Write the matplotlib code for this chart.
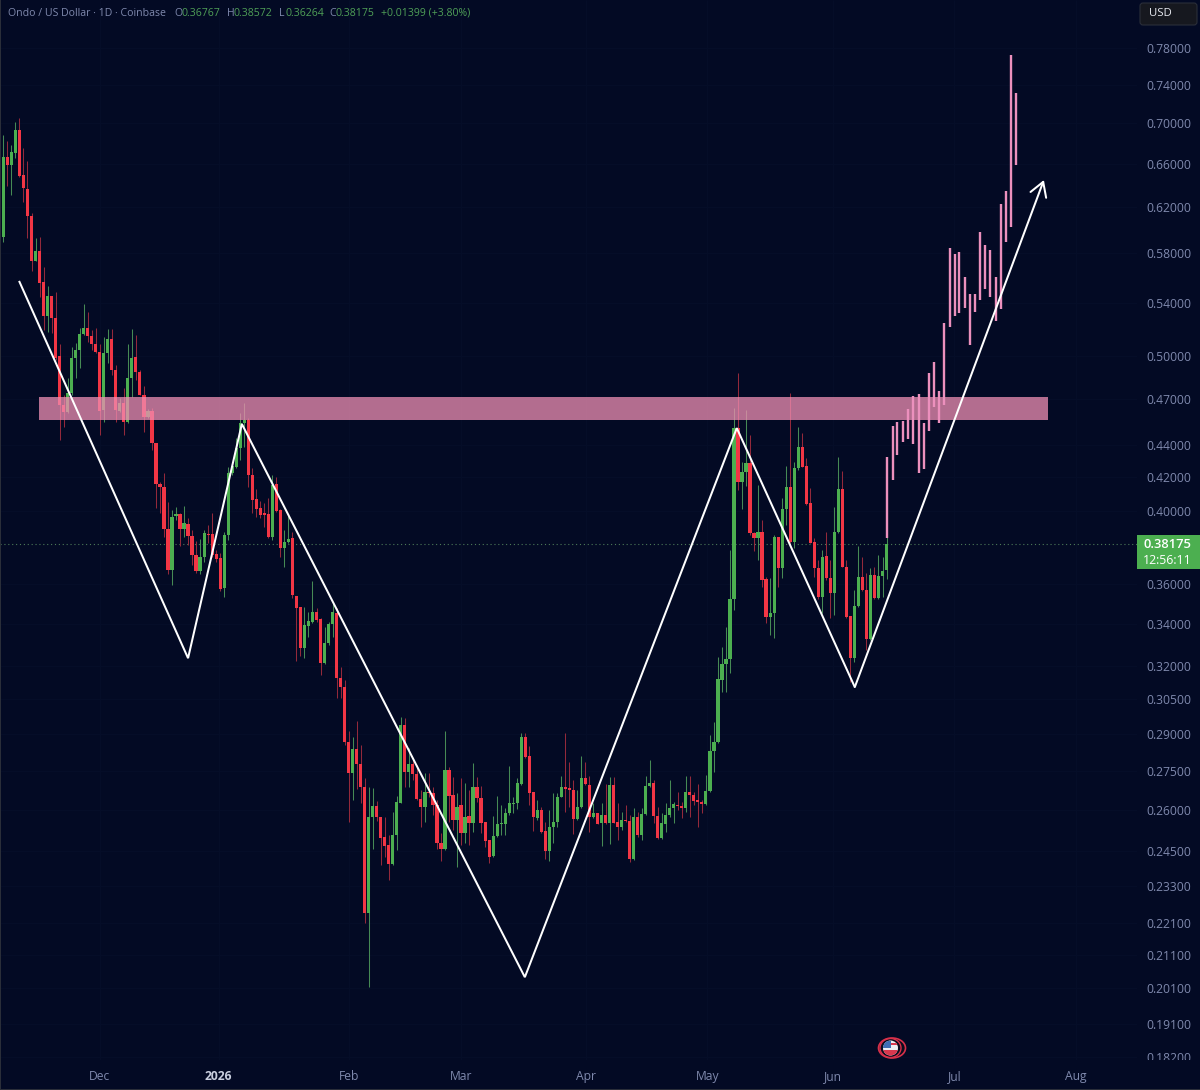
# Ondo / US Dollar daily candles with the pattern drawn over them
import numpy as np
import matplotlib
matplotlib.use("Agg")
import matplotlib.pyplot as plt
from matplotlib.patches import Rectangle, Circle, Ellipse, FancyBboxPatch
from matplotlib.transforms import Bbox

plt.rcParams['font.family'] = ['Open Sans', 'DejaVu Sans']

# Daily candles
opens = [
    .5940, .6666, .6589, .6704, .6930, .6494, .6365, .6122, .5738, .5821,
    .5566, .5300, .5454, .5284, .5003, .4661, .4615, .4743, .4988, .5046,
    .5164, .5209, .5149, .5090, .5031, .4628, .5024, .5127, .4903, .4621,
    .4675, .4549, .4846, .4995, .4889, .4729, .4582, .4621, .4413, .4159,
    .4141, .3898, .3674, .3972, .3983, .3898, .3926, .3859, .3755, .3669,
    .3744, .3870, .3870, .3760, .3739, .3580, .3864, .4226, .4262, .4381,
    .4542, .4562, .4213, .4071, .4018, .3989, .3983, .3853, .4159, .4006,
    .3793, .3826, .3848, .3539, .3483, .3284, .3389, .3409, .3458, .3424,
    .3213, .3308, .3399, .3453, .3144, .3103, .2867, .2742, .2838, .2778,
    .2687, .2240, .2573, .2614, .2573, .2500, .2471, .2404, .2507, .2626,
    .2938, .2746, .2778, .2738, .2641, .2610, .2667, .2664, .2618, .2478,
    .2457, .2754, .2656, .2562, .2618, .2514, .2577, .2551, .2687, .2645,
    .2555, .2489, .2432, .2503, .2547, .2547, .2588, .2622, .2626, .2699,
    .2888, .2810, .2667, .2569, .2599, .2521, .2450, .2536, .2555, .2648,
    .2687, .2683, .2675, .2565, .2610, .2722, .2695, .2573, .2588, .2551,
    .2580, .2551, .2695, .2555, .2536, .2562, .2558, .2421, .2573, .2507,
    .2584, .2691, .2702, .2577, .2496, .2547, .2580, .2606, .2618, .2614,
    .2606, .2667, .2656, .2637, .2629, .2622, .2671, .2830, .2867, .3135,
    .3208, .3232, .3524, .4509, .4171, .4232, .4287, .3875, .3848, .3881,
    .3627, .3434, .3453, .3853, .3685, .4012, .4141, .3826, .4256, .4387,
    .4268, .4047, .3826, .3685, .3534, .3750, .3632, .3555, .3881, .4130,
    .3690, .3439, .3236, .3488, .3637, .3570, .3327, .3648, .3529, .3643,
    .36767,
]
highs = [
    .6880, .6821, .6782, .7011, .7051, .6752, .6627, .6149, .5931, .5940,
    .5688, .5534, .5454, .5486, .5090, .4729, .4846, .5068, .5097, .5209,
    .5392, .5331, .5194, .5209, .5090, .5142, .5201, .5201, .4938, .4708,
    .4777, .5090, .5201, .5157, .4903, .4790, .4635, .4641, .4413, .4171,
    .4226, .4053, .4006, .4024, .3989, .4029, .3960, .3892, .3831, .3842,
    .3892, .3920, .3989, .3782, .3766, .3881, .4262, .4287, .4445, .4608,
    .4675, .4575, .4256, .4130, .4059, .4047, .4077, .4213, .4201, .4012,
    .3892, .3978, .3881, .3539, .3483, .3483, .3458, .3617, .3478, .3429,
    .3384, .3409, .3509, .3478, .3195, .3135, .2913, .2888, .2956, .2855,
    .2722, .2687, .2683, .2633, .2573, .2573, .2507, .2592, .2652, .2973,
    .2969, .2842, .2794, .2774, .2675, .2742, .2742, .2687, .2637, .2514,
    .2913, .2766, .2726, .2664, .2722, .2702, .2675, .2782, .2726, .2691,
    .2555, .2489, .2577, .2652, .2618, .2606, .2770, .2648, .2722, .2905,
    .2905, .2850, .2667, .2637, .2610, .2555, .2599, .2664, .2664, .2730,
    .2905, .2786, .2714, .2675, .2810, .2786, .2730, .2626, .2588, .2626,
    .2699, .2726, .2726, .2626, .2592, .2618, .2580, .2606, .2592, .2606,
    .2730, .2794, .2714, .2610, .2588, .2626, .2714, .2629, .2667, .2629,
    .2730, .2730, .2667, .2699, .2637, .2734, .2896, .2951, .3241, .3288,
    .3384, .3782, .4641, .4882, .4293, .4628, .4464, .3881, .4153, .3949,
    .3637, .3632, .3864, .3853, .4077, .4268, .4743, .4293, .4516, .4477,
    .4318, .4136, .3848, .3728, .3782, .3881, .3728, .4024, .4324, .4238,
    .3728, .3439, .3570, .3804, .3744, .3658, .3685, .3690, .3755, .3744,
    .38572,
]
lows = [
    .5897, .6393, .6310, .6656, .6476, .6247, .5931, .5655, .5738, .5446,
    .5194, .5179, .5172, .4974, .4432, .4516, .4608, .4729, .4846, .4917,
    .5157, .5105, .5046, .5024, .4464, .4549, .4953, .4867, .4549, .4615,
    .4464, .4542, .4715, .4832, .4729, .4483, .4575, .4368, .4018, .3989,
    .3853, .3653, .3596, .3949, .3804, .3853, .3809, .3701, .3658, .3653,
    .3717, .3820, .3744, .3717, .3565, .3534, .3837, .4213, .4256, .4306,
    .4387, .4141, .3989, .3966, .3960, .3909, .3848, .3837, .3995, .3744,
    .3690, .3820, .3529, .3222, .3246, .3236, .3336, .3404, .3409, .3158,
    .3208, .3298, .3336, .3055, .3055, .2855, .2555, .2637, .2679, .2626,
    .2208, .2014, .2457, .2558, .2401, .2428, .2350, .2401, .2453, .2626,
    .2687, .2687, .2714, .2637, .2536, .2555, .2648, .2580, .2457, .2415,
    .2453, .2555, .2525, .2394, .2471, .2478, .2471, .2518, .2629, .2514,
    .2464, .2408, .2428, .2500, .2507, .2507, .2580, .2588, .2602, .2695,
    .2802, .2618, .2521, .2562, .2514, .2421, .2415, .2478, .2536, .2648,
    .2592, .2610, .2510, .2562, .2606, .2695, .2518, .2569, .2547, .2467,
    .2547, .2475, .2551, .2489, .2525, .2555, .2411, .2418, .2500, .2489,
    .2580, .2687, .2551, .2493, .2493, .2518, .2573, .2551, .2599, .2569,
    .2592, .2573, .2618, .2536, .2588, .2618, .2667, .2746, .2863, .3081,
    .3081, .3167, .3468, .4124, .4012, .4147, .3864, .3777, .3728, .3585,
    .3404, .3346, .3331, .3585, .3632, .3920, .3820, .3793, .4244, .4262,
    .4035, .3820, .3637, .3524, .3453, .3622, .3429, .3443, .3875, .3690,
    .3429, .3126, .3217, .3483, .3565, .3274, .3322, .3524, .3524, .3534,
    .36264,
]
closes = [
    .6666, .6589, .6714, .6930, .6485, .6374, .6122, .5738, .5821, .5558,
    .5300, .5454, .5284, .4988, .4661, .4615, .4743, .4988, .5046, .5164,
    .5209, .5149, .5090, .5031, .4621, .5024, .5127, .4903, .4628, .4675,
    .4549, .4846, .4988, .4889, .4729, .4582, .4621, .4413, .4159, .4141,
    .3898, .3674, .3966, .3983, .3898, .3932, .3859, .3755, .3669, .3744,
    .3875, .3864, .3755, .3733, .3575, .3864, .4226, .4268, .4381, .4542,
    .4562, .4213, .4065, .4012, .3978, .3978, .3853, .4153, .4000, .3793,
    .3826, .3842, .3544, .3478, .3284, .3394, .3414, .3458, .3419, .3213,
    .3308, .3399, .3458, .3144, .3103, .2867, .2742, .2838, .2778, .2687,
    .2240, .2573, .2614, .2573, .2496, .2467, .2404, .2507, .2629, .2938,
    .2746, .2778, .2738, .2641, .2610, .2667, .2664, .2618, .2478, .2457,
    .2754, .2652, .2562, .2610, .2514, .2573, .2551, .2687, .2645, .2551,
    .2485, .2428, .2503, .2547, .2551, .2588, .2626, .2626, .2702, .2888,
    .2806, .2664, .2573, .2599, .2518, .2450, .2536, .2555, .2648, .2687,
    .2679, .2675, .2565, .2610, .2722, .2699, .2573, .2588, .2547, .2580,
    .2551, .2695, .2551, .2536, .2562, .2558, .2421, .2573, .2507, .2584,
    .2691, .2702, .2577, .2496, .2551, .2580, .2606, .2622, .2614, .2606,
    .2667, .2656, .2633, .2629, .2622, .2671, .2830, .2867, .3140, .3208,
    .3232, .3524, .4509, .4171, .4232, .4287, .3875, .3848, .3881, .3622,
    .3434, .3453, .3853, .3685, .4012, .4141, .3826, .4256, .4387, .4262,
    .4041, .3820, .3685, .3534, .3744, .3632, .3555, .3881, .4130, .3690,
    .3434, .3236, .3488, .3637, .3570, .3327, .3648, .3529, .3643, .3669,
    .38175,
]

# Pink projected bars (day number, top, bottom)
proj_days = [220.2, 221.6, 222.7, 224.1, 225.4, 226.6, 228.0, 229.4, 230.5, 231.8,
             233.1, 234.3, 235.7, 237.1, 238.1, 239.5, 240.8, 242.0, 243.4, 244.5,
             245.8, 247.2, 248.4, 249.7, 251.1, 252.2]
proj_high = [.4324, .4522, .4549, .4555, .4635, .4722, .4736, .4542, .4882, .4960,
             .4756, .5247, .5846, .5796, .5812, .5606, .5470, .5470, .5983, .5871,
             .5829, .5606, .6229, .6347, .7722, .7310]
proj_low = [.3848, .4183, .4337, .4419, .4438, .4406, .4226, .4250, .4490, .4648,
            .4542, .4661, .5216, .5300, .5323, .5361, .5083, .5331, .5423, .5510,
            .5446, .5261, .5354, .5897, .6026, .6589]

# White pattern line and resistance band
path_days = [3.9, 46.0, 59.4, 129.9, 182.7, 212.1, 259.2]
path_prices = [.5575, .3236, .4536, .2043, .4509, .3104, .6448]
band_days = [8.9, 260.2]
band_prices = [.4562, .4715]

# Axis labels
price_ticks = [.78, .74, .70, .66, .62, .58, .54, .50, .47, .44, .42, .40, .36, .34, .32,
               .305, .29, .275, .26, .245, .233, .221, .211, .201, .191, .182]
month_labels = ['Dec', '2026', 'Feb', 'Mar', 'Apr', 'May', 'Jun', 'Jul', 'Aug']
month_days = [24, 53.6, 86, 114, 145.2, 175.4, 206.7, 236.9, 267.2]

BG = '#030a24'
GREEN = '#4caf50'
RED = '#f23645'
PINK = '#ec90bd'
MUTED = '#7f89ad'

opens = np.array(opens)
closes = np.array(closes)
days = np.arange(len(opens))
up = closes >= opens

fig = plt.figure(figsize=(12, 10.9), dpi=100, facecolor=BG)
ax = fig.add_axes([0, 30 / 1090, 1137 / 1200, 1060 / 1090], facecolor=BG)
ax.set_yscale('log')
ax.set_xlim(-0.85, 282.4)
ax.set_ylim(.1813, .8359)

# Barely visible grid
ax.vlines(month_days, .1813, .8359, color='#050d28', lw=0.8, zorder=0)
ax.hlines(price_ticks, -0.85, 282.4, color='#050d28', lw=0.8, zorder=0)

# Candles
wick_colors = ['#468a55' if u else '#93293b' for u in up]
ax.vlines(days, lows, highs, colors=wick_colors, lw=0.75, zorder=2)
ax.bar(days, np.abs(closes - opens), bottom=np.minimum(opens, closes), width=0.8,
       color=[GREEN if u else RED for u in up], linewidth=0, zorder=3)

# Last price line
ax.axhline(closes[-1], color='#4d7a58', lw=0.8, ls=(0, (1, 2.5)), zorder=1)

# Band sits over the candles, projection and pattern over the band
ax.fill_between(band_days, band_prices[0], band_prices[1], color='#f08fb4', alpha=0.75,
                linewidth=0, zorder=4)
ax.vlines(proj_days, proj_low, proj_high, color=PINK, lw=1.7, zorder=5)
ax.plot(path_days[:-1], path_prices[:-1], color='white', lw=1.45, zorder=6,
        solid_joinstyle='miter', solid_capstyle='butt')
ax.annotate('', xy=(path_days[-1], path_prices[-1]), xytext=(path_days[-2], path_prices[-2]),
            arrowprops=dict(arrowstyle='->,head_length=0.5,head_width=0.3', color='white',
                            lw=1.45, mutation_scale=20, shrinkA=0, shrinkB=0), zorder=6)

# Price scale on the right, month labels below
ax.yaxis.tick_right()
ax.minorticks_off()
ax.set_yticks(price_ticks)
ax.set_yticklabels([f'{p:.5f}' for p in price_ticks])
ax.minorticks_off()
ax.set_xticks(month_days)
ax.set_xticklabels(month_labels)
ax.tick_params(axis='both', length=0, labelcolor=MUTED, labelsize=8.7)
ax.tick_params(axis='y', pad=6.5)
ax.tick_params(axis='x', pad=7.5)
for lab in ax.get_xticklabels():
    if lab.get_text() == '2026':
        lab.set_fontweight('bold')
        lab.set_color('#c9cede')
for lab in ax.get_yticklabels():
    lab.set_clip_on(True)
    lab.set_clip_box(Bbox([[1137, 30], [1200, 1090]]))
for side in ax.spines.values():
    side.set_visible(False)

# Overlay in picture pixels for the interface parts
ov = fig.add_axes([0, 0, 1, 1], facecolor='none')
ov.set_xlim(0, 1200)
ov.set_ylim(1090, 0)
ov.axis('off')
ov.add_patch(Rectangle((0, 0), 1.2, 1090, color='#2a2e39', lw=0))
ov.add_patch(Rectangle((0, 1088.5), 1200, 1.5, color='#2a2e39', lw=0))

# Header line
ov.text(8, 13, 'Ondo / US Dollar · 1D · Coinbase', color=MUTED, fontsize=7.6, va='center')
header = [(174, 'O'), (227, 'H'), (279, 'L'), (329, 'C')]
values = ['0.36767', '0.38572', '0.36264', '0.38175']
for (hx, letter), val in zip(header, values):
    ov.text(hx, 13, letter, color=MUTED, fontsize=7.6, va='center')
    ov.text(hx + 7, 13, val, color='#4f9f57', fontsize=7.6, va='center')
ov.text(381, 13, '+0.01399 (+3.80%)', color='#4f9f57', fontsize=7.6, va='center')

# Currency button
ov.add_patch(FancyBboxPatch((1140, 3), 57, 22, boxstyle='round,pad=0,rounding_size=3',
                            fc='#16181f', ec='#2a2e39', lw=0.8))
ov.text(1148.5, 14, 'USD', color='#e6e8ef', fontsize=8.2, va='center', fontweight='medium')

# Last price tag
ov.add_patch(Rectangle((1137, 535), 63, 34, color=GREEN, lw=0))
ov.text(1167.5, 544, f'{closes[-1]:.5f}', color='white', fontsize=9.4, va='center', ha='center',
        fontweight='semibold')
ov.text(1167.5, 560, '12:56:11', color='white', fontsize=8.8, va='center', ha='center')

# Small flag marker
ov.add_patch(Ellipse((892, 1048), 27, 20, fc='#0b0d1e', ec='#d8304a', lw=1.2))
ov.add_patch(Ellipse((890.5, 1048), 21, 19, fc='none', ec='#d8304a', lw=1))
flag = Circle((890.5, 1048), 7.5, fc='#f0f0f4', ec='none')
ov.add_patch(flag)
for sx, sy, sw, sh, col in [(883, 1040.5, 8, 7.5, '#3f6fb5'), (891, 1043, 8, 2, '#d8384e'),
                            (883, 1050, 16, 6, '#d8384e')]:
    stripe = Rectangle((sx, sy), sw, sh, color=col, lw=0)
    ov.add_patch(stripe)
    stripe.set_clip_path(flag)

fig.savefig('out.png', dpi=100, facecolor=BG)
